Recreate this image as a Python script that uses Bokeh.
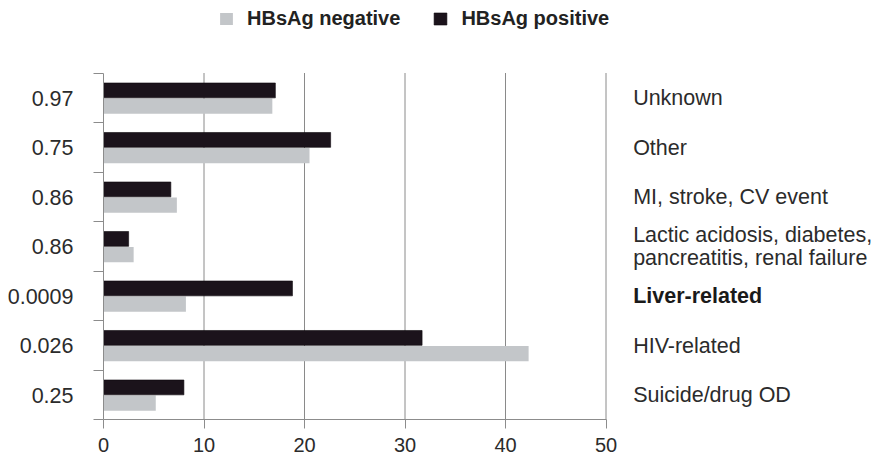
from bokeh.plotting import figure
from bokeh.models import Range1d, FixedTicker, Label, Legend, LegendItem
from bokeh.embed import file_html
from bokeh.resources import INLINE

causes = ["Suicide/drug OD", "HIV-related", "Liver-related",
          "Lactic acidosis, diabetes,\npancreatitis, renal failure",
          "MI, stroke, CV event", "Other", "Unknown"]
p_values = ["0.25", "0.026", "0.0009", "0.86", "0.86", "0.75", "0.97"]
hbsag_negative = [5.2, 42.3, 8.2, 3.0, 7.3, 20.5, 16.8]
hbsag_positive = [8.0, 31.7, 18.8, 2.5, 6.7, 22.6, 17.1]
bold_cause = [False, False, True, False, False, False, False]
x_ticks = [0, 10, 20, 30, 40, 50]

FONT = "Liberation Sans"
TXT = "#2b2b2b"
AX = "#8c8c8c"

W, H = 879, 460
LEFT, BOTTOM = 103, 41
PX_PER_UNIT = 10.05
PX_PER_CAT = 49.5

n = len(causes)
centers = [i + 0.49 for i in range(n)]
pos_y = [c + 0.158 for c in centers]
neg_y = [c - 0.158 for c in centers]

x_end = (W - LEFT) / PX_PER_UNIT
y_end = (H - BOTTOM) / PX_PER_CAT

p = figure(width=W, height=H, x_range=Range1d(0, x_end), y_range=Range1d(0, y_end),
           output_backend="svg", toolbar_location=None,
           min_border_left=LEFT, min_border_right=0, min_border_top=0, min_border_bottom=BOTTOM)
p.outline_line_color = None
p.background_fill_color = "white"

# vertical grid lines limited to the category area
p.grid.visible = False
p.segment(x0=x_ticks[1:], x1=x_ticks[1:], y0=0, y1=n, line_color="#8a8a8a", line_width=1)

r_neg = p.hbar(y=neg_y, right=hbsag_negative, left=0, height=0.31,
               fill_color="#c3c6c9", line_color=None)
r_pos = p.hbar(y=pos_y, right=hbsag_positive, left=0, height=0.30,
               fill_color="#1b131b", line_color="#0d080d", line_width=0.6)

# x axis
p.xaxis.ticker = FixedTicker(ticks=x_ticks)
p.xaxis.bounds = (x_ticks[0], x_ticks[-1])
p.xaxis.axis_line_color = AX
p.xaxis.major_tick_line_color = AX
p.xaxis.major_tick_out = 9
p.xaxis.major_tick_in = 0
p.xaxis.minor_tick_line_color = None
p.xaxis.major_label_text_font = FONT
p.xaxis.major_label_text_font_size = "20px"
p.xaxis.major_label_text_color = TXT
p.xaxis.major_label_standoff = 9

# y axis: p-values at centers, ticks at category boundaries
p.yaxis.ticker = FixedTicker(ticks=centers, minor_ticks=list(range(n + 1)))
p.yaxis.bounds = (0, n)
p.yaxis.major_label_overrides = {c: pv for c, pv in zip(centers, p_values)}
p.yaxis.axis_line_color = AX
p.yaxis.major_tick_line_color = None
p.yaxis.major_tick_out = 0
p.yaxis.major_tick_in = 0
p.yaxis.minor_tick_line_color = AX
p.yaxis.minor_tick_out = 10
p.yaxis.minor_tick_in = 0
p.yaxis.major_label_text_font = FONT
p.yaxis.major_label_text_font_size = "21.5px"
p.yaxis.major_label_text_color = TXT
p.yaxis.major_label_standoff = 20

# right-hand cause labels
for c, txt, b in zip(centers, causes, bold_cause):
    p.add_layout(Label(x=52.7, y=c, text=txt, text_baseline="middle",
                       text_align="left", text_font=FONT, text_font_size="21.5px",
                       text_color="#1a1a1a" if b else TXT,
                       text_font_style="bold" if b else "normal",
                       text_line_height=0.95))

legend = Legend(items=[LegendItem(label="HBsAg negative", renderers=[r_neg]),
                       LegendItem(label="HBsAg positive", renderers=[r_pos])],
                orientation="horizontal", location=(115, H - BOTTOM - 30),
                label_text_font=FONT, label_text_font_style="bold",
                label_text_font_size="20px", label_text_color="#222222",
                glyph_width=16, glyph_height=15, label_standoff=13, spacing=32,
                padding=0, margin=0, border_line_color=None,
                background_fill_alpha=0)
p.add_layout(legend)

open("out.html", "w").write(file_html(p, INLINE))
